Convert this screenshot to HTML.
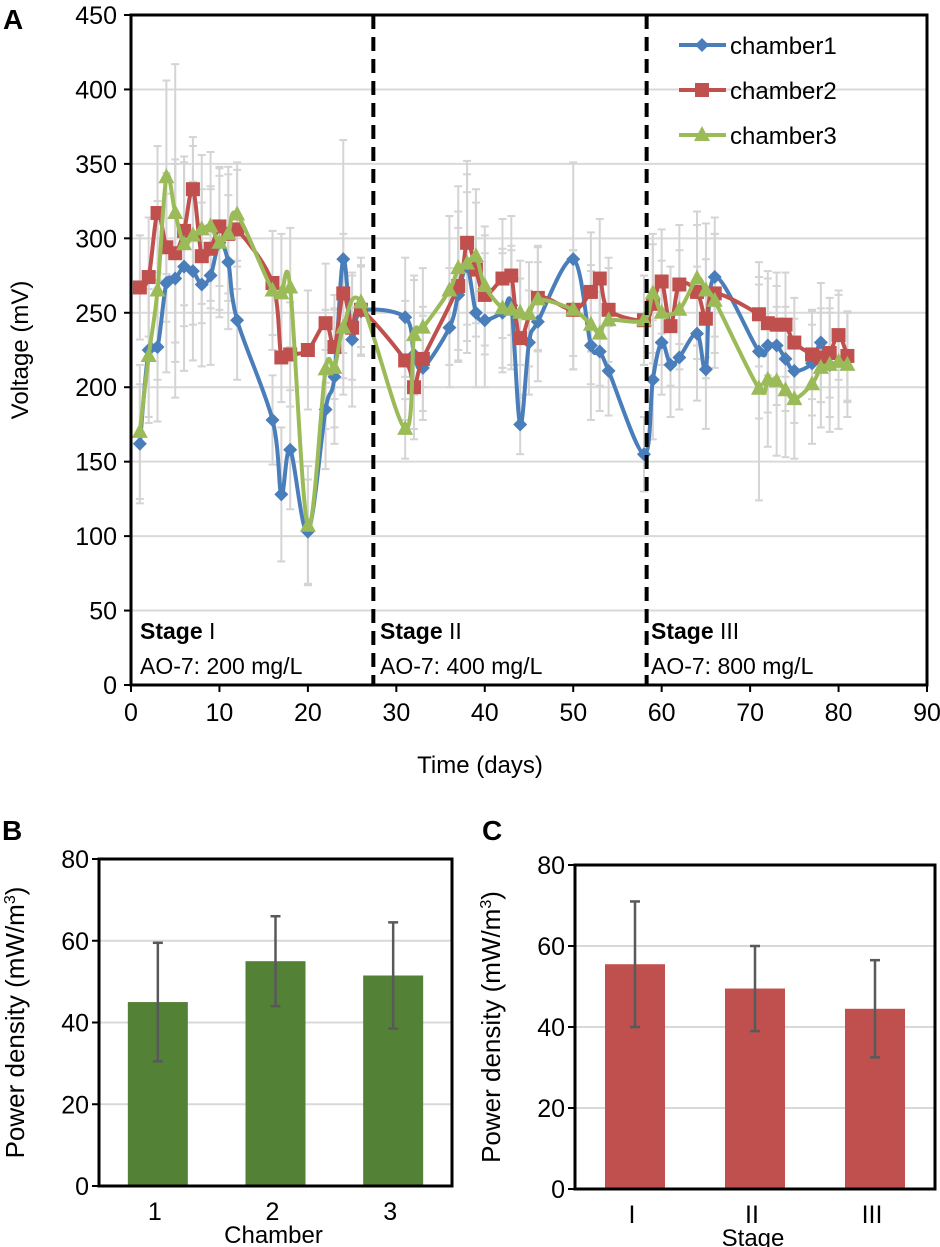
<!DOCTYPE html>
<html><head><meta charset="utf-8"><style>
body{margin:0;background:#fff;}
svg{display:block;font-family:"Liberation Sans",sans-serif;}
</style></head><body>
<svg id="fig" width="940" height="1247" viewBox="0 0 940 1247"></svg>
<script>
const daysA=[1,2,3,4,5,6,7,8,9,10,11,12,16,17,18,20,22,23,24,25,26,31,32,33,36,37,38,39,40,42,43,44,45,46,50,52,53,54,58,59,60,61,62,64,65,66,71,72,73,74,75,77,78,79,81];
const ch1=[162,225,227,270,273,281,278,269,275,297,284,245,178,128,158,103,185,207,286,232,251,247,222,213,240,262,281,250,245,250,255,175,230,244,286,228,224,211,155,205,230,215,220,236,212,274,224,228,228,219,211,216,230,215,220];
const err1=[40,45,50,60,80,70,60,55,60,50,45,40,30,45,40,35,40,45,80,45,30,40,50,35,40,45,50,50,45,40,40,20,35,40,65,50,40,30,25,40,35,35,35,45,40,40,45,45,40,35,35,35,40,35,30];
const daysB=[1,2,3,4,5,6,7,8,9,10,11,12,16,17,18,20,22,23,24,25,26,31,32,33,37,38,39,40,42,43,44,46,50,52,53,54,58,59,60,61,62,64,65,66,71,72,73,74,75,77,78,79,80,81];
const ch2=[267,274,317,294,290,305,333,288,293,308,303,306,270,220,222,225,243,227,263,240,252,218,200,219,268,297,279,262,273,275,233,260,252,264,273,252,245,256,271,241,269,264,246,263,249,243,242,242,230,222,220,223,235,221];
const err2=[35,40,45,50,60,50,35,45,40,40,40,40,35,30,35,40,40,35,40,35,30,40,35,35,50,55,45,40,40,40,40,35,40,40,40,35,30,40,35,40,40,45,40,40,35,35,35,35,30,30,30,30,30,30];
const daysC=[1,2,3,4,5,6,7,8,9,10,11,12,16,17,18,20,22,23,24,26,31,32,33,36,37,38,39,40,42,43,44,45,46,50,52,53,54,58,59,60,62,64,65,66,71,72,73,74,75,77,78,79,80,81];
const ch3=[170,221,265,341,317,296,302,306,308,297,303,316,265,263,267,107,212,213,240,257,172,235,240,265,280,283,288,268,253,252,250,249,259,252,242,236,245,245,263,250,252,273,265,258,199,205,204,198,192,202,213,215,217,215];
const err3=[45,45,60,65,100,55,60,50,50,45,45,35,40,40,40,40,40,40,45,30,20,40,40,50,55,60,45,40,40,40,35,35,35,40,40,35,35,30,40,35,40,45,45,45,75,45,50,45,40,40,40,45,45,35];
const yTicksA=[0,50,100,150,200,250,300,350,400,450];
const xTicksA=[0,10,20,30,40,50,60,70,80,90];
const stageBounds=[27.4,58.3];
const chambers=['1','2','3'];
const chamberVals=[45,55,51.5];
const chamberErr=[14.5,11,13];
const stages=['I','II','III'];
const stageVals=[55.5,49.5,44.5];
const stageErr=[15.5,10.5,12];
const yTicksBC=[0,20,40,60,80];

const svg=document.getElementById('fig');
const NS='http://www.w3.org/2000/svg';
function mk(tag,attrs,parent){const e=document.createElementNS(NS,tag);for(const k in attrs)e.setAttribute(k,attrs[k]);(parent||svg).appendChild(e);return e;}
function txt(s,x,y,size,anchor,parent,extra){const t=mk('text',Object.assign({x:x,y:y,'font-size':size,'text-anchor':anchor||'middle',fill:'#000'},extra||{}),parent);t.textContent=s;return t;}

const AL=131,AR=927,AT=15,AB=685;
const xA=d=>AL+(d/90)*(AR-AL);
const yA=v=>AB-(v/450)*(AB-AT);
const gA=mk('g',{});


yTicksA.forEach(v=>{
  if(v>0&&v<450){const l=mk('line',{x1:AL,x2:AR,y1:yA(v),y2:yA(v),stroke:'#d9d9d9','stroke-width':2},gA);}
  mk('line',{x1:AL-7,x2:AL,y1:yA(v),y2:yA(v),stroke:'#000','stroke-width':2},gA);
  const t=txt(String(v),AL-14,yA(v)+9,25,'end',gA);
  
});
xTicksA.forEach(d=>{
  mk('line',{x1:xA(d),x2:xA(d),y1:AB,y2:AB+7,stroke:'#000','stroke-width':2},gA);
  const t=txt(String(d),xA(d),AB+36,25,'middle',gA);
  
});
function errbars(days,vals,errs){
  const g=mk('g',{},gA);
  
  
  days.forEach((d,i)=>{const x=xA(d),y1=yA(vals[i]-errs[i]),y2=yA(Math.min(450,vals[i]+errs[i]));
    mk('line',{x1:x,x2:x,y1:y1,y2:y2,stroke:'#d4d4d4','stroke-width':2},g);
    mk('line',{x1:x-4,x2:x+4,y1:y1,y2:y1,stroke:'#d4d4d4','stroke-width':2},g);
    mk('line',{x1:x-4,x2:x+4,y1:y2,y2:y2,stroke:'#d4d4d4','stroke-width':2},g);});
}
errbars(daysA,ch1,err1);errbars(daysB,ch2,err2);errbars(daysC,ch3,err3);
function smooth(pts){
  let d='M'+pts[0][0]+','+pts[0][1];
  for(let i=0;i<pts.length-1;i++){
    const p0=pts[i-1]||pts[i],p1=pts[i],p2=pts[i+1],p3=pts[i+2]||p2;
    const c1=[p1[0]+(p2[0]-p0[0])/6,p1[1]+(p2[1]-p0[1])/6],c2=[p2[0]-(p3[0]-p1[0])/6,p2[1]-(p3[1]-p1[1])/6];
    d+='C'+c1[0]+','+c1[1]+' '+c2[0]+','+c2[1]+' '+p2[0]+','+p2[1];
  }
  return d;
}
function marker(kind,x,y,color,g){
  if(kind==='d')return mk('polygon',{points:`${x},${y-7} ${x+7},${y} ${x},${y+7} ${x-7},${y}`,fill:color},g);
  if(kind==='s')return mk('rect',{x:x-7,y:y-7,width:14,height:14,fill:color},g);
  return mk('polygon',{points:`${x},${y-9} ${x+8},${y+6} ${x-8},${y+6}`,fill:color},g);
}
function series(days,vals,color,kind,name){
  const g=mk('g',{},gA);
  
  
  const pts=days.map((d,i)=>[xA(d),yA(vals[i])]);
  mk('path',{d:smooth(pts),fill:'none',stroke:color,'stroke-width':4,'stroke-linejoin':'round'},g);
  pts.forEach(p=>marker(kind,p[0],p[1],color,g));
}
series(daysA,ch1,'#4a7ebb','d','series-chamber1');
series(daysB,ch2,'#c0504d','s','series-chamber2');
series(daysC,ch3,'#9bbb59','t','series-chamber3');
stageBounds.forEach(d=>{const l=mk('line',{x1:xA(d),x2:xA(d),y1:AT,y2:AB,stroke:'#000','stroke-width':4,'stroke-dasharray':'14,8'},gA);});
mk('rect',{x:AL,y:AT,width:AR-AL,height:AB-AT,fill:'none',stroke:'#000','stroke-width':3},gA);
const stageTxt=[['I','200'],['II','400'],['III','800']];
const stageX=[140,380,651];
stageTxt.forEach((s,i)=>{
  const t=txt('',stageX[i],639,23,'start',gA);
  
  const b=document.createElementNS(NS,'tspan');b.setAttribute('font-weight','bold');b.textContent='Stage ';t.appendChild(b);
  const n=document.createElementNS(NS,'tspan');n.textContent=s[0];t.appendChild(n);
  const c=txt('AO-7: '+s[1]+' mg/L',stageX[i],674,23,'start',gA);
  
});
const legNames=['chamber1','chamber2','chamber3'],legColors=['#4a7ebb','#c0504d','#9bbb59'],legKinds=['d','s','t'];
legNames.forEach((n,i)=>{
  const g=mk('g',{},gA);
  
  
  const y=45+45*i;
  mk('line',{x1:679,x2:726,y1:y,y2:y,stroke:legColors[i],'stroke-width':4},g);
  marker(legKinds[i],702,y,legColors[i],g);
  txt(n,730,y+9,24,'start',g);
});
let t=txt('Voltage (mV)',28,350,24,'middle',gA,{transform:'rotate(-90 28 350)'});

t=txt('Time (days)',480,773,24,'middle',gA);

t=txt('A',3,29,28,'start',svg,{'font-weight':'bold'});


function barPanel(L,R,T,B,cats,vals,errs,color,xTitle,label,name,labelX){
  const g=mk('g',{});
  
  
  const y=v=>B-(v/80)*(B-T);
  const step=(R-L)/cats.length;
  yTicksBC.forEach(v=>{
    if(v>0&&v<80)mk('line',{x1:L,x2:R,y1:y(v),y2:y(v),stroke:'#d9d9d9','stroke-width':2},g);
    mk('line',{x1:L-7,x2:L,y1:y(v),y2:y(v),stroke:'#000','stroke-width':2},g);
    const tt=txt(String(v),L-10,y(v)+9,25,'end',g);
    
  });
  cats.forEach((c,i)=>{
    const cx=L+step*(i+0.5);
    const r=mk('rect',{x:cx-30,y:y(vals[i]),width:60,height:B-y(vals[i]),fill:color},g);
    
    const e1=y(vals[i]-errs[i]),e2=y(vals[i]+errs[i]);
    mk('line',{x1:cx,x2:cx,y1:e1,y2:e2,stroke:'#595959','stroke-width':2.5},g);
    mk('line',{x1:cx-5,x2:cx+5,y1:e1,y2:e1,stroke:'#595959','stroke-width':2.5},g);
    mk('line',{x1:cx-5,x2:cx+5,y1:e2,y2:e2,stroke:'#595959','stroke-width':2.5},g);
    const tt=txt(c,cx-3,B+34,25,'middle',g);
    
  });
  mk('rect',{x:L,y:T,width:R-L,height:B-T,fill:'none',stroke:'#000','stroke-width':3},g);
  let a=txt(xTitle,(L+R)/2-2,B+57,24,'middle',g);
  
  const yc=(T+B)/2;const yx=L-75;
  a=txt('',yx,yc,26,'middle',g,{transform:`rotate(-90 ${yx} ${yc})`});
  
  const s1=document.createElementNS(NS,'tspan');s1.textContent='Power density (mW/m';a.appendChild(s1);
  const s2=document.createElementNS(NS,'tspan');s2.setAttribute('font-size','16');s2.setAttribute('dy','-9');s2.textContent='3';a.appendChild(s2);
  const s3=document.createElementNS(NS,'tspan');s3.setAttribute('dy','9');s3.textContent=')';a.appendChild(s3);
  a=txt(label,labelX,840,28,'start',svg,{'font-weight':'bold'});
  
}
barPanel(99,452,859,1186,chambers,chamberVals,chamberErr,'#538135','Chamber','B','panel-b-chamber-chart',2);
barPanel(575,935,865,1189,stages,stageVals,stageErr,'#c0504d','Stage','C','panel-c-stage-chart',482);
</script>
</body></html>
